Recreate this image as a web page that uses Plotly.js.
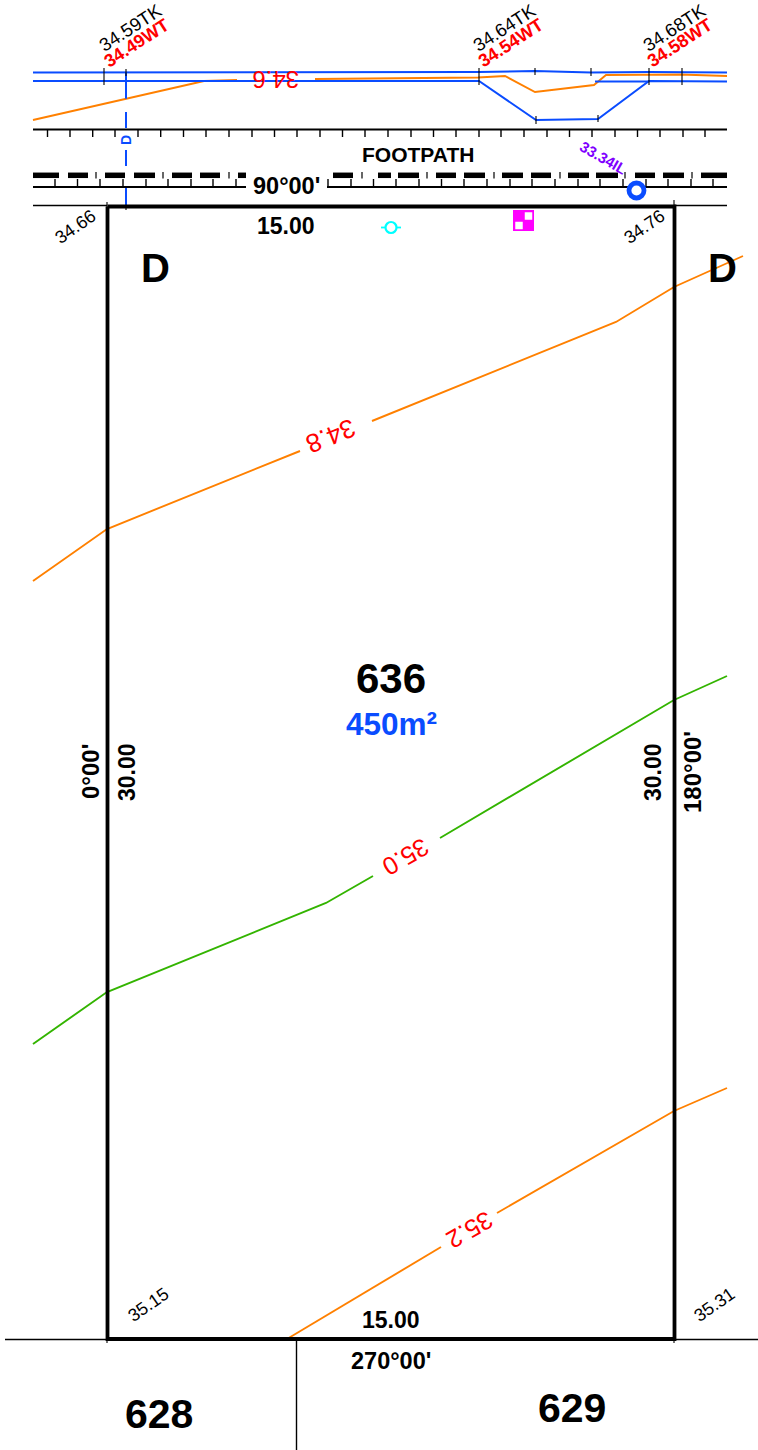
<!DOCTYPE html>
<html><head><meta charset="utf-8">
<script src="https://cdn.plot.ly/plotly-3.0.1.min.js"></script>
<style>html,body{margin:0;padding:0;background:#fff}</style></head>
<body><div id="chart" style="width:758px;height:1450px"></div>
<script>
const BLUE='#0a4cff', ORANGE='#ff8000', GREEN='#33b400', RED='#ff0000', BLACK='#000000', PURPLE='#7f00ff';

// Lot boundary
const lotX=[107.5,674.5,674.5,107.5,107.5];
const lotY=[206.5,206.5,1339,1339,206.5];

// Neighbouring boundary lines
const boundaryX=[33,107,null,674,727,null,5,107,null,674,758,null,296.5,296.5];
const boundaryY=[205.5,205.5,null,205.5,205.5,null,1339.5,1339.5,null,1339.5,1339.5,null,1340,1450];

// Kerb lines
const kerbTopX=[33,479,535,591,649,727];
const kerbTopY=[72.5,72,71,72.5,72,72.5];
const kerbLowX=[33,479,536,598,649,727,null,595,649];
const kerbLowY=[81,81,120,119,81,81.5,null,81.5,81.5];

// Contours
const c346X=[33,126,204,237,null,315,478,505,535,594,606,680,727];
const c346Y=[120,98.5,81,80,null,79,77.5,76,92,85,75,74.5,76];
const c348X=[33,107,300,null,372,616,674,743];
const c348Y=[581,529,451,null,421,322,287,256];
const c350X=[33,107,326,373,null,440,674,727];
const c350Y=[1044,992,903,876,null,838,700,676];
const c352X=[287,441,null,497,674,727];
const c352Y=[1339,1247,null,1213,1111,1088];

// Drainage line
const drainX=[126,126,null,126,126,null,126,126,null,126,126];
const drainY=[72,98.7,null,112,128,null,150,166,null,187,206];

// Footpath rule lines
const ruleAX=[33,727];
const ruleAY=[129.5,129.5];
const ruleBX=[33,246,null,327,727];
const ruleBY=[187,187,null,187,187];
const ticksA=[47.5,70,92.7,115,138,160.7,183.5,206,229,252,274.5,297,320,342.5,365,388,411,433.5,456,479,501,524,547,569.5,592,615,637.5,660,683,705];
const ticksB=[55,77.5,100,123,146,168,191,213,236,328,351,373.5,396,419,441.5,464,487,510,532,555,578,600,623,646,668,691,713];

// Thick broken service line
const dashStart=[33,68,105,134,172,200,238,333,378,398,436,464,502,531,568,596,635,663,701];
const dashEnd=[59,88,125,155,192,220,246,353,391,419,456,485,523,551,589,618,655,684,727];
const pipX=[96,163,229,362,427,494,560,625,692];

// Survey cross ticks
const crossX=[104,126,479,535,591,649,682,479,649,682,536,598,107,674,107,674,126];
const crossTop=[68,69,68,68,68,68,68,76,76,76,116,115,202,200,1339,1339,206];
const crossBot=[85,76,76,75,76,76,76,85,85,85,124,122,207,207,1343,1343,210];

// Text labels
const labelText=['34.59TK','34.49WT','34.64TK','34.54WT','34.68TK','34.58WT','34.6','FOOTPATH','33.34IL','90°00\'','15.00','34.66','34.76','D','D','34.8','636','450m²','0°00\'','30.00','30.00','180°00\'','35.0','35.2','35.15','35.31','15.00','270°00\'','628','629','D'];
const labelX=[130.5,136.5,504.5,510.5,674.5,679.5,276,418,603,286,286,75,644,155,722,331,391,391,90,127,653,692,406,470,148,714,391,391,159,572,126];
const labelY=[27,43,27,42.5,27,42.5,80,154,157.5,186,226,227,227,268,268,436,678,724,772,772,772,772,857,1230,1305,1305,1320,1361,1414,1408,140];
const labelAngle=[-33,-33,-33,-33,-33,-33,180,0,30,0,0,-35,-35,0,0,158,0,0,-90,-90,-90,-90,150,150,-35,-35,0,0,0,0,-90];
const labelSize=[18.5,18,18.5,18,18.5,18,24,21,15,23.5,23,18,18,40,40,26,42,31.5,24,23,23,24,25,25,18,18,23,23.5,41,41,14];
const labelColor=[BLACK,RED,BLACK,RED,BLACK,RED,RED,BLACK,PURPLE,BLACK,BLACK,BLACK,BLACK,BLACK,BLACK,RED,BLACK,BLUE,BLACK,BLACK,BLACK,BLACK,RED,RED,BLACK,BLACK,BLACK,BLACK,BLACK,BLACK,BLUE];
const labelBold=[0,1,0,1,0,1,0,1,1,1,1,0,0,1,1,0,1,1,1,1,1,1,0,0,0,0,1,1,1,1,1];

function line(x,y,color,width){return {type:'scatter',mode:'lines',x:x,y:y,hoverinfo:'skip',connectgaps:false,line:{color:color,width:width}};}
function segs(a,b,c,d){
  const X=[],Y=[];
  a.forEach((v,i)=>{X.push(v,b[i],null);Y.push(c[i],d[i],null);});
  return [X,Y];
}
const ta=segs(ticksA,ticksA,ticksA.map(()=>129.5),ticksA.map(()=>137));
const tb=segs(ticksB,ticksB,ticksB.map(()=>179),ticksB.map(()=>187));
const dd=segs(dashStart,dashEnd,dashStart.map(()=>175.3),dashStart.map(()=>175.3));
const pp=segs(pipX,pipX,pipX.map(()=>172),pipX.map(()=>178.5));
const cc=segs(crossX,crossX,crossTop,crossBot);

const traces=[
 line(c346X,c346Y,ORANGE,1.9),
 line(c348X,c348Y,ORANGE,1.9),
 line(c350X,c350Y,GREEN,1.9),
 line(c352X,c352Y,ORANGE,1.9),
 line(kerbTopX,kerbTopY,BLUE,2),
 line(kerbLowX,kerbLowY,BLUE,2),
 line(drainX,drainY,BLUE,2),
 line(ruleAX,ruleAY,BLACK,2),
 line(ta[0],ta[1],BLACK,1.4),
 line(ruleBX,ruleBY,BLACK,2),
 line(tb[0],tb[1],BLACK,1.4),
 line(dd[0],dd[1],BLACK,5.5),
 line(pp[0],pp[1],BLACK,1.2),
 line(boundaryX,boundaryY,BLACK,1.4),
 line(cc[0],cc[1],BLACK,1.1),
 line(lotX,lotY,BLACK,3.8),
 line([381,401],[227.5,227.5],'#00ffff',1.8),
 {type:'scatter',mode:'markers',x:[391],y:[227.5],hoverinfo:'skip',marker:{symbol:'circle',size:11,color:'#ffffff',line:{color:'#00ffff',width:2.2}}},
 {type:'scatter',mode:'markers',x:[636.5],y:[190.5],hoverinfo:'skip',marker:{symbol:'circle',size:15,color:'#ffffff',line:{color:BLUE,width:4.8}}},
 {type:'scatter',mode:'markers',x:[523.5],y:[220.5],hoverinfo:'skip',marker:{symbol:'square',size:21,color:'#ff00ff'}},
 {type:'scatter',mode:'markers',x:[528.5,519],y:[216,225.5],hoverinfo:'skip',marker:{symbol:'square',size:7.5,color:'#ffffff'}}
];

const annotations=labelText.map((t,i)=>({
  text:t,x:labelX[i],y:labelY[i],xref:'x',yref:'y',showarrow:false,xanchor:'center',yanchor:'middle',
  textangle:labelAngle[i],
  font:{family:'"Liberation Sans", Arial, sans-serif',size:labelSize[i],color:labelColor[i],weight:labelBold[i]?700:400}
}));

const layout={
  width:758,height:1450,margin:{l:0,r:0,t:0,b:0},showlegend:false,
  paper_bgcolor:'#fff',plot_bgcolor:'#fff',
  xaxis:{range:[0,758],visible:false,fixedrange:true},
  yaxis:{range:[1450,0],visible:false,fixedrange:true},
  annotations:annotations
};
Plotly.newPlot('chart',traces,layout,{displayModeBar:false,staticPlot:true});
</script></body></html>
